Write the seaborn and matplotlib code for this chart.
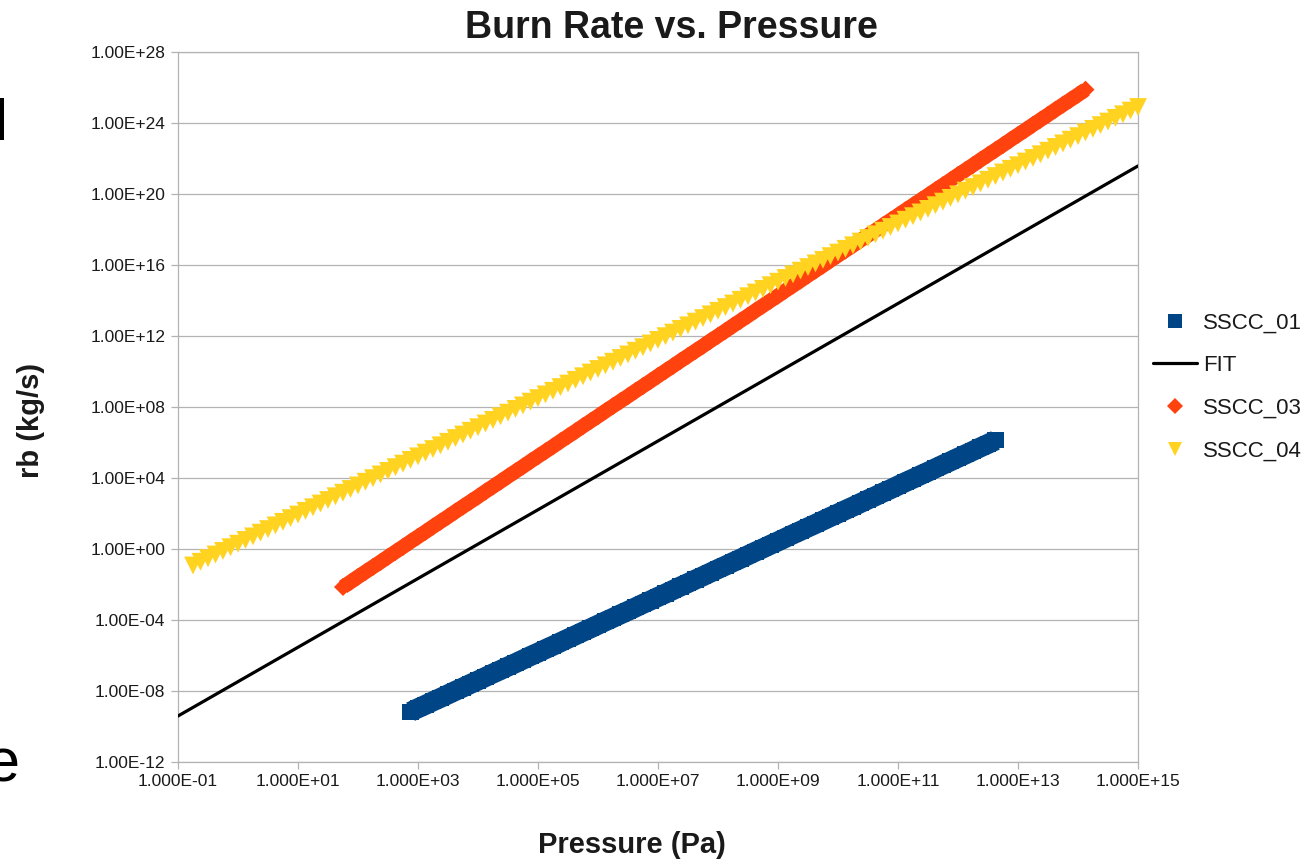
import numpy as np
import matplotlib
matplotlib.use("Agg")
import matplotlib.pyplot as plt
from matplotlib.lines import Line2D
from matplotlib.ticker import FixedLocator, FuncFormatter, NullLocator
import seaborn as sns

# ---- data: log10 pressure (Pa) and log10 burn rate (kg/s) per series ----
sscc01_log_p = [
    2.875,
    3.0, 3.125, 3.25, 3.375, 3.5, 3.625, 3.75, 3.875,
    4.0, 4.125, 4.25, 4.375, 4.5, 4.625, 4.75, 4.875,
    5.0, 5.125, 5.25, 5.375, 5.5, 5.625, 5.75, 5.875,
    6.0, 6.125, 6.25, 6.375, 6.5, 6.625, 6.75, 6.875,
    7.0, 7.125, 7.25, 7.375, 7.5, 7.625, 7.75, 7.875,
    8.0, 8.125, 8.25, 8.375, 8.5, 8.625, 8.75, 8.875,
    9.0, 9.125, 9.25, 9.375, 9.5, 9.625, 9.75, 9.875,
    10.0, 10.125, 10.25, 10.375, 10.5, 10.625, 10.75, 10.875,
    11.0, 11.125, 11.25, 11.375, 11.5, 11.625, 11.75, 11.875,
    12.0, 12.125, 12.25, 12.375, 12.5, 12.625,
]
sscc01_log_rb = [
    -9.17, -8.97, -8.78, -8.58, -8.39, -8.19, -7.99, -7.80, -7.60, -7.41,
    -7.21, -7.01, -6.82, -6.62, -6.43, -6.23, -6.03, -5.84, -5.64, -5.45,
    -5.25, -5.05, -4.86, -4.66, -4.47, -4.27, -4.07, -3.88, -3.68, -3.49,
    -3.29, -3.09, -2.90, -2.70, -2.51, -2.31, -2.11, -1.92, -1.72, -1.53,
    -1.33, -1.13, -0.94, -0.74, -0.55, -0.35, -0.15, 0.04, 0.24, 0.43,
    0.63, 0.83, 1.02, 1.22, 1.41, 1.61, 1.81, 2.00, 2.20, 2.39,
    2.59, 2.79, 2.98, 3.18, 3.37, 3.57, 3.77, 3.96, 4.16, 4.35,
    4.55, 4.75, 4.94, 5.14, 5.33, 5.53, 5.73, 5.92, 6.12,
]

sscc03_log_p = [
    1.75, 1.875,
    2.0, 2.125, 2.25, 2.375, 2.5, 2.625, 2.75, 2.875,
    3.0, 3.125, 3.25, 3.375, 3.5, 3.625, 3.75, 3.875,
    4.0, 4.125, 4.25, 4.375, 4.5, 4.625, 4.75, 4.875,
    5.0, 5.125, 5.25, 5.375, 5.5, 5.625, 5.75, 5.875,
    6.0, 6.125, 6.25, 6.375, 6.5, 6.625, 6.75, 6.875,
    7.0, 7.125, 7.25, 7.375, 7.5, 7.625, 7.75, 7.875,
    8.0, 8.125, 8.25, 8.375, 8.5, 8.625, 8.75, 8.875,
    9.0, 9.125, 9.25, 9.375, 9.5, 9.625, 9.75, 9.875,
    10.0, 10.125, 10.25, 10.375, 10.5, 10.625, 10.75, 10.875,
    11.0, 11.125, 11.25, 11.375, 11.5, 11.625, 11.75, 11.875,
    12.0, 12.125, 12.25, 12.375, 12.5, 12.625, 12.75, 12.875,
    13.0, 13.125, 13.25, 13.375, 13.5, 13.625, 13.75, 13.875,
    14.0, 14.125,
]
sscc03_log_rb = [
    -2.14, -1.86, -1.57, -1.29, -1.01, -0.73, -0.44, -0.16, 0.12, 0.41,
    0.69, 0.97, 1.26, 1.54, 1.82, 2.11, 2.39, 2.67, 2.95, 3.24,
    3.52, 3.80, 4.09, 4.37, 4.65, 4.94, 5.22, 5.50, 5.78, 6.07,
    6.35, 6.63, 6.92, 7.20, 7.48, 7.77, 8.05, 8.33, 8.61, 8.90,
    9.18, 9.46, 9.75, 10.03, 10.31, 10.60, 10.88, 11.16, 11.44, 11.73,
    12.01, 12.29, 12.58, 12.86, 13.14, 13.43, 13.71, 13.99, 14.27, 14.56,
    14.84, 15.12, 15.41, 15.69, 15.97, 16.26, 16.54, 16.82, 17.10, 17.39,
    17.67, 17.95, 18.24, 18.52, 18.80, 19.09, 19.37, 19.65, 19.93, 20.22,
    20.50, 20.78, 21.07, 21.35, 21.63, 21.92, 22.20, 22.48, 22.76, 23.05,
    23.33, 23.61, 23.90, 24.18, 24.46, 24.75, 25.03, 25.31, 25.59, 25.88,
]

sscc04_log_p = [
    -0.75, -0.625, -0.5, -0.375, -0.25, -0.125,
    0.0, 0.125, 0.25, 0.375, 0.5, 0.625, 0.75, 0.875,
    1.0, 1.125, 1.25, 1.375, 1.5, 1.625, 1.75, 1.875,
    2.0, 2.125, 2.25, 2.375, 2.5, 2.625, 2.75, 2.875,
    3.0, 3.125, 3.25, 3.375, 3.5, 3.625, 3.75, 3.875,
    4.0, 4.125, 4.25, 4.375, 4.5, 4.625, 4.75, 4.875,
    5.0, 5.125, 5.25, 5.375, 5.5, 5.625, 5.75, 5.875,
    6.0, 6.125, 6.25, 6.375, 6.5, 6.625, 6.75, 6.875,
    7.0, 7.125, 7.25, 7.375, 7.5, 7.625, 7.75, 7.875,
    8.0, 8.125, 8.25, 8.375, 8.5, 8.625, 8.75, 8.875,
    9.0, 9.125, 9.25, 9.375, 9.5, 9.625, 9.75, 9.875,
    10.0, 10.125, 10.25, 10.375, 10.5, 10.625, 10.75, 10.875,
    11.0, 11.125, 11.25, 11.375, 11.5, 11.625, 11.75, 11.875,
    12.0, 12.125, 12.25, 12.375, 12.5, 12.625, 12.75, 12.875,
    13.0, 13.125, 13.25, 13.375, 13.5, 13.625, 13.75, 13.875,
    14.0, 14.125, 14.25, 14.375, 14.5, 14.625, 14.75, 14.875,
    15.0,
]
sscc04_log_rb = [
    -0.93, -0.72, -0.52, -0.31, -0.11, 0.10, 0.30, 0.51, 0.71, 0.92,
    1.12, 1.33, 1.53, 1.74, 1.94, 2.15, 2.35, 2.56, 2.76, 2.97,
    3.17, 3.38, 3.58, 3.79, 3.99, 4.20, 4.40, 4.61, 4.81, 5.02,
    5.22, 5.43, 5.63, 5.84, 6.04, 6.25, 6.45, 6.66, 6.86, 7.07,
    7.27, 7.48, 7.68, 7.89, 8.09, 8.30, 8.50, 8.71, 8.91, 9.12,
    9.32, 9.53, 9.73, 9.94, 10.14, 10.35, 10.55, 10.76, 10.96, 11.17,
    11.37, 11.58, 11.78, 11.99, 12.19, 12.40, 12.60, 12.81, 13.01, 13.22,
    13.42, 13.63, 13.83, 14.04, 14.24, 14.45, 14.65, 14.86, 15.06, 15.27,
    15.47, 15.68, 15.88, 16.09, 16.29, 16.50, 16.70, 16.91, 17.11, 17.32,
    17.52, 17.73, 17.93, 18.14, 18.34, 18.55, 18.75, 18.96, 19.16, 19.37,
    19.57, 19.78, 19.98, 20.19, 20.39, 20.60, 20.80, 21.01, 21.21, 21.42,
    21.62, 21.83, 22.03, 22.24, 22.44, 22.65, 22.85, 23.06, 23.26, 23.47,
    23.67, 23.88, 24.08, 24.29, 24.49, 24.70, 24.90,
]

# fitted power law, evaluated at the ends of the pressure axis
fit_pressure = [1.0e-1, 1.0e15]
fit_rb = [3.9e-10, 3.8e21]

x_ticks = [1e-1, 1e1, 1e3, 1e5, 1e7, 1e9, 1e11, 1e13, 1e15]
y_ticks = [1e-12, 1e-8, 1e-4, 1e0, 1e4, 1e8, 1e12, 1e16, 1e20, 1e24, 1e28]

labels = ["SSCC_01", "FIT", "SSCC_03", "SSCC_04"]
colors = {"SSCC_01": "#004586", "FIT": "#000000",
          "SSCC_03": "#ff420e", "SSCC_04": "#ffd320"}

# ---- styling ----
sns.set_theme(style="white")
plt.rcParams["font.family"] = ["Liberation Sans", "DejaVu Sans"]

W, H = 1311, 859
fig = plt.figure(figsize=(W / 100, H / 100), dpi=100)
ax = fig.add_axes([178 / W, 97 / H, 960 / W, 710 / H])
ax.set_xscale("log")
ax.set_yscale("log")
ax.set_xlim(1e-1, 1e15)
ax.set_ylim(1e-12, 1e28)

grid_grey = "#b3b3b3"
ax.grid(False)
for yv in y_ticks:
    ax.axhline(yv, color=grid_grey, linewidth=0.9, zorder=0)

# ---- series ----
p01 = 10.0 ** np.array(sscc01_log_p)
r01 = 10.0 ** np.array(sscc01_log_rb)
p03 = 10.0 ** np.array(sscc03_log_p)
r03 = 10.0 ** np.array(sscc03_log_rb)
p04 = 10.0 ** np.array(sscc04_log_p)
r04 = 10.0 ** np.array(sscc04_log_rb)

# densely packed square markers, joined so the run reads as a solid band
sns.lineplot(x=p01, y=r01, color=colors["SSCC_01"], linewidth=14.5,
             solid_capstyle="butt", zorder=3, ax=ax)
sns.scatterplot(x=p01, y=r01, marker="s", s=135, color=colors["SSCC_01"],
                edgecolor="none", linewidth=0, clip_on=False, zorder=3, ax=ax)
sns.lineplot(x=fit_pressure, y=fit_rb, color=colors["FIT"], linewidth=2.3,
             zorder=4, ax=ax)
sns.lineplot(x=p03, y=r03, color=colors["SSCC_03"], linewidth=10.5,
             solid_capstyle="butt", zorder=5, ax=ax)
sns.scatterplot(x=p03, y=r03, marker="D", s=84, color=colors["SSCC_03"],
                edgecolor="none", linewidth=0, clip_on=False, zorder=5, ax=ax)
sns.scatterplot(x=p04, y=r04, marker="v", s=165, color=colors["SSCC_04"],
                edgecolor="none", linewidth=0, clip_on=False, zorder=6, ax=ax)

# ---- axes, ticks ----
for side in ["left", "right", "bottom", "top"]:
    ax.spines[side].set_visible(True)
    ax.spines[side].set_color(grid_grey)
    ax.spines[side].set_linewidth(0.9)

ax.xaxis.set_major_locator(FixedLocator(x_ticks))
ax.yaxis.set_major_locator(FixedLocator(y_ticks))
ax.xaxis.set_minor_locator(NullLocator())
ax.yaxis.set_minor_locator(NullLocator())
ax.xaxis.set_major_formatter(FuncFormatter(lambda v, _: f"{v:.3E}"))
ax.yaxis.set_major_formatter(FuncFormatter(lambda v, _: f"{v:.2E}"))
ax.tick_params(axis="both", which="major", bottom=True, left=True,
               direction="out", length=5, width=0.9, color=grid_grey,
               labelsize=12.5, labelcolor="#1a1a1a", pad=4)

ax.set_title("Burn Rate vs. Pressure", fontsize=27, fontweight="bold",
             x=0.5135, y=1.0197, pad=0, va="baseline", color="#1a1a1a")
ax.set_xlabel("Pressure (Pa)", fontsize=21, fontweight="bold", color="#1a1a1a")
ax.xaxis.set_label_coords(0.473, -0.097)
ax.set_ylabel("rb (kg/s)", fontsize=21, fontweight="bold", color="#1a1a1a")
ax.yaxis.set_label_coords(-0.1385, 0.4817)

# ---- legend ----
handles = [
    Line2D([], [], marker="s", linestyle="None", color=colors["SSCC_01"],
           markersize=9.5, markeredgewidth=0),
    Line2D([], [], color=colors["FIT"], linewidth=2.3),
    Line2D([], [], marker="D", linestyle="None", color=colors["SSCC_03"],
           markersize=7.8, markeredgewidth=0),
    Line2D([], [], marker="v", linestyle="None", color=colors["SSCC_04"],
           markersize=9.8, markeredgewidth=0),
]
fig.legend(handles, labels, loc="center left",
           bbox_to_anchor=(1153 / W, 1 - 387 / H), frameon=False,
           fontsize=16, handlelength=2.0, handletextpad=0.25,
           labelspacing=0.97, borderpad=0, borderaxespad=0,
           labelcolor="#1a1a1a")

# slide text running off the left edge of the page
fig.text(-6 / W, 1 - 140 / H, "l", fontsize=42, color="black",
         ha="left", va="baseline")
fig.text(-15 / W, 1 - 781 / H, "e", fontsize=44, color="black",
         ha="left", va="baseline")

fig.savefig("out.png", dpi=100)
